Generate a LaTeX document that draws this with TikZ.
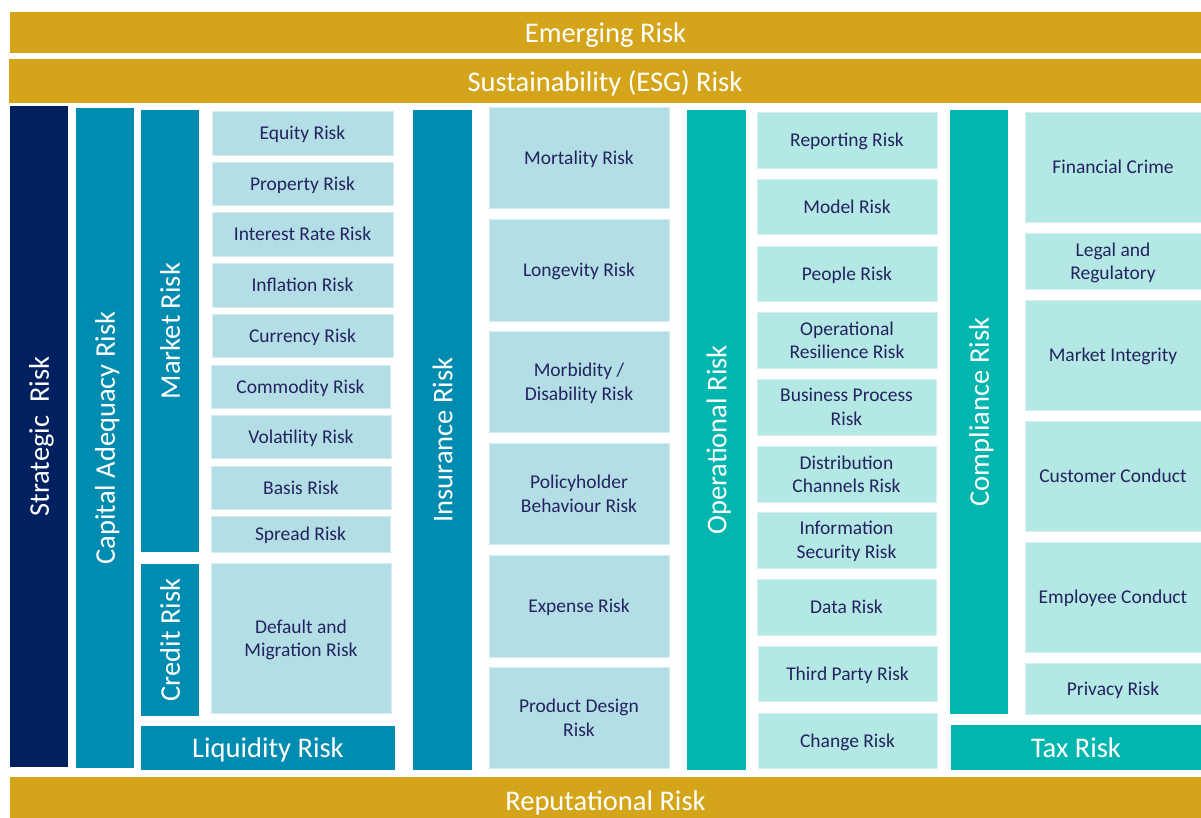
\documentclass[tikz,border=0pt]{standalone}
\usepackage{fontspec}
\setmainfont{Carlito}
\definecolor{gold}{HTML}{D4A51B}
\definecolor{navy}{HTML}{002060}
\definecolor{tealblue}{HTML}{008CB0}
\definecolor{lightblue}{HTML}{B3DEE6}
\definecolor{tealgreen}{HTML}{00B6AE}
\definecolor{lightgreen}{HTML}{B3E8E4}
\definecolor{textnavy}{HTML}{23235F}
\tikzset{
  base/.style={inner sep=0pt, outer sep=0pt, align=center, text depth=0pt},
  band/.style={base, fill=gold, text=white, font=\fontsize{28.5}{34}\selectfont},
  bigcol/.style={base, text=white, font=\fontsize{28.5}{34}\selectfont},
  subbox/.style={base, text=textnavy, font=\fontsize{19.5}{23.5}\selectfont, draw=#1!55!white, line width=0.8pt, fill=#1},
}
\newcommand\rbox[7]{\node[#6, minimum width={(#4-#2)*1pt}, minimum height={(#5-#3)*1pt}] (#1) at ({(#2+#4)/2},{(#3+#5)/2}) {#7};}
\newcommand\vrect[7]{\node[#6, rotate=90, minimum width={(#5-#3)*1pt}, minimum height={(#4-#2)*1pt}] (#1) at ({(#2+#4)/2},{(#3+#5)/2}) {#7};}
\begin{document}
\begin{tikzpicture}[x=1pt,y=-1pt]
\useasboundingbox (0,0) rectangle (1201,818);
\fill[white] (0,0) rectangle (1201,818);
% bands
\rbox{emerging}{10}{12}{1201}{53}{band}{Emerging Risk}
\rbox{esg}{9}{59}{1201}{103}{band}{Sustainability (ESG) Risk}
\rbox{reput}{10}{777}{1201}{824}{band}{Reputational Risk}
% left columns
\vrect{strategic}{10}{106}{68}{767}{bigcol, fill=navy}{Strategic~ Risk}
\vrect{capital}{76}{108}{134}{768}{bigcol, fill=tealblue}{Capital Adequacy Risk}
\vrect{market}{141}{110}{199}{552}{bigcol, fill=tealblue}{Market Risk}
\vrect{credit}{141}{564}{199}{716}{bigcol, fill=tealblue}{Credit Risk}
\rbox{liquidity}{141}{726}{395}{770}{bigcol, fill=tealblue}{Liquidity Risk}
% market sub-risks
\rbox{equity}{212}{111}{393}{155}{subbox=lightblue}{Equity Risk}
\rbox{property}{212}{162}{393}{205}{subbox=lightblue}{Property Risk}
\rbox{interest}{212}{212}{393}{256}{subbox=lightblue}{Interest Rate Risk}
\rbox{inflation}{212}{263}{393}{307}{subbox=lightblue}{Inflation Risk}
\rbox{currency}{212}{314}{393}{357}{subbox=lightblue}{Currency Risk}
\rbox{commodity}{211}{365}{390}{408}{subbox=lightblue}{Commodity Risk}
\rbox{volatility}{211}{415}{391}{458}{subbox=lightblue}{Volatility Risk}
\rbox{basis}{211}{466}{391}{509}{subbox=lightblue}{Basis Risk}
\rbox{spread}{211}{516}{390}{552}{subbox=lightblue}{Spread Risk}
\rbox{default}{211}{563}{391}{713}{subbox=lightblue}{Default and\\Migration Risk}
% insurance
\vrect{insurance}{413}{110}{472}{770}{bigcol, fill=tealblue}{Insurance Risk}
\rbox{mortality}{489}{107}{669}{208}{subbox=lightblue}{Mortality Risk}
\rbox{longevity}{489}{219}{669}{321}{subbox=lightblue}{Longevity Risk}
\rbox{morbidity}{489}{331}{669}{432}{subbox=lightblue}{Morbidity /\\Disability Risk}
\rbox{policyholder}{489}{443}{669}{544}{subbox=lightblue}{Policyholder\\Behaviour Risk}
\rbox{expense}{489}{555}{669}{657}{subbox=lightblue}{Expense Risk}
\rbox{product}{489}{667}{669}{768}{subbox=lightblue}{Product Design\\Risk}
% operational
\vrect{operational}{687}{110}{746}{770}{bigcol, fill=tealgreen}{Operational Risk}
\rbox{reporting}{757}{112}{937}{168}{subbox=lightgreen}{Reporting Risk}
\rbox{model}{757}{179}{937}{234}{subbox=lightgreen}{Model Risk}
\rbox{people}{757}{246}{937}{301}{subbox=lightgreen}{People Risk}
\rbox{resilience}{757}{312}{937}{368}{subbox=lightgreen}{Operational\\Resilience Risk}
\rbox{business}{757}{379}{936}{435}{subbox=lightgreen}{Business Process\\Risk}
\rbox{distribution}{757}{446}{936}{502}{subbox=lightgreen}{Distribution\\Channels Risk}
\rbox{infosec}{757}{512}{936}{568}{subbox=lightgreen}{Information\\Security Risk}
\rbox{data}{757}{579}{936}{635}{subbox=lightgreen}{Data Risk}
\rbox{thirdparty}{758}{646}{937}{701}{subbox=lightgreen}{Third Party Risk}
\rbox{change}{758}{713}{937}{768}{subbox=lightgreen}{Change Risk}
% compliance
\vrect{compliance}{950}{110}{1008}{714}{bigcol, fill=tealgreen}{Compliance Risk}
\rbox{fincrime}{1025}{112}{1201}{222}{subbox=lightgreen}{Financial Crime}
\rbox{legal}{1025}{233}{1201}{289}{subbox=lightgreen}{Legal and\\Regulatory}
\rbox{integrity}{1025}{300}{1201}{410}{subbox=lightgreen}{Market Integrity}
\rbox{customer}{1025}{421}{1201}{531}{subbox=lightgreen}{Customer Conduct}
\rbox{employee}{1025}{542}{1201}{652}{subbox=lightgreen}{Employee Conduct}
\rbox{privacy}{1025}{663}{1201}{714}{subbox=lightgreen}{Privacy Risk}
\rbox{tax}{951}{725}{1201}{770}{bigcol, fill=tealgreen}{Tax Risk}
\end{tikzpicture}
\end{document}
